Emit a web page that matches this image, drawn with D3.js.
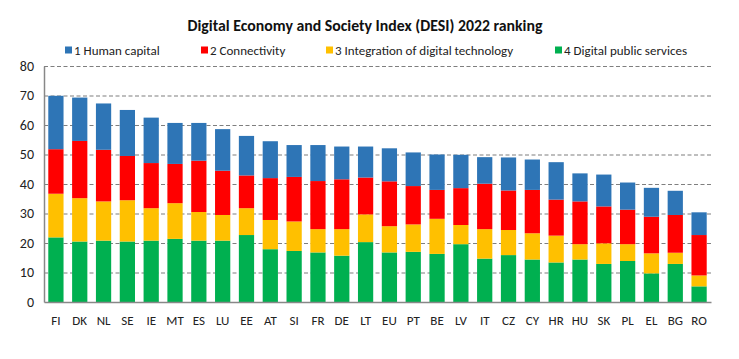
<!DOCTYPE html>
<html><head><meta charset="utf-8">
<script src="https://cdn.jsdelivr.net/npm/d3@7"></script>
<style>body{margin:0;background:#fff}svg{display:block}</style>
</head><body><svg id="c" width="739" height="359"></svg>
<script>
const countries = ["FI","DK","NL","SE","IE","MT","ES","LU","EE","AT","SI","FR","DE","LT","EU","PT","BE","LV","IT","CZ","CY","HR","HU","SK","PL","EL","BG","RO"];
const digitalPublicServices = [21.9,20.5,20.8,20.5,20.8,21.4,20.8,20.8,22.7,17.9,17.3,16.8,15.7,20.3,16.8,17.0,16.3,19.6,14.7,15.9,14.4,13.4,14.4,12.9,13.9,9.7,12.9,5.3];
const integration = [14.8,14.7,13.3,14.0,11.0,12.1,9.7,8.7,9.1,9.9,10.0,7.9,9.0,9.4,8.9,9.3,11.9,6.5,10.0,8.5,8.9,9.1,5.2,7.0,5.7,6.8,3.8,3.7];
const connectivity = [15.1,19.4,17.5,15.0,15.3,13.3,17.4,15.0,11.1,14.2,15.1,16.3,16.9,12.5,15.2,13.0,9.8,12.5,15.4,13.4,14.7,12.2,14.5,12.5,11.7,12.4,12.8,13.7];
const humanCapital = [18.1,14.7,15.7,15.6,15.4,13.9,12.8,14.1,13.4,12.5,10.8,12.2,11.1,10.5,11.2,11.4,12.0,11.3,9.0,11.2,10.3,12.7,9.5,10.8,9.2,9.8,8.2,7.7];
const seriesNames = ["1 Human capital","2 Connectivity","3 Integration of digital technology","4 Digital public services"];
const yTicks = [0,10,20,30,40,50,60,70,80];
const titleText = "Digital Economy and Society Index (DESI) 2022 ranking";

const colors = {"1 Human capital":"#2E75B6","2 Connectivity":"#FF0000","3 Integration of digital technology":"#FFC000","4 Digital public services":"#00B050"};
const font = "Calibri, Carlito, 'Open Sans', sans-serif";

const svg = d3.select("#c");
const m = {l:44, r:28, t:66, b:57};
const W = 739, H = 359;

const x = d3.scaleBand().domain(countries).range([m.l, W - m.r]).paddingInner(0.36).paddingOuter(0.18);
const y = d3.scaleLinear().domain([0,80]).range([H - m.b, m.t]);

const rows = countries.map((c,i)=>({c, "4 Digital public services":digitalPublicServices[i], "3 Integration of digital technology":integration[i], "2 Connectivity":connectivity[i], "1 Human capital":humanCapital[i]}));
const stackOrder = ["4 Digital public services","3 Integration of digital technology","2 Connectivity","1 Human capital"];
const stacked = d3.stack().keys(stackOrder)(rows);

// gridlines
svg.append("g").selectAll("line").data(yTicks.filter(t=>t>0)).join("line")
  .attr("x1", m.l).attr("x2", W - m.r)
  .attr("y1", d=>y(d)+0.5).attr("y2", d=>y(d)+0.5)
  .attr("stroke","#7f7f7f").attr("stroke-width",1.2).attr("stroke-dasharray","4,2.5");

// bars
svg.append("g").selectAll("g").data(stacked).join("g")
  .attr("fill", d=>colors[d.key])
  .selectAll("rect").data(d=>d).join("rect")
  .attr("x", d=>x(d.data.c)).attr("width", x.bandwidth())
  .attr("y", d=>y(d[1])).attr("height", d=>y(d[0])-y(d[1]));

// axes
const yAxis = d3.axisLeft(y).tickValues(yTicks).tickSize(0).tickPadding(10);
const gy = svg.append("g").attr("transform",`translate(${m.l},0)`).call(yAxis);
gy.select(".domain").attr("stroke","#888").attr("stroke-width",1.5);
gy.selectAll("text").attr("font-family",font).attr("font-size",14).attr("fill","#222");

const xAxis = d3.axisBottom(x).tickSize(0).tickPadding(14);
const gx = svg.append("g").attr("transform",`translate(0,${H - m.b})`).call(xAxis);
gx.select(".domain").attr("stroke","#888").attr("stroke-width",1.5);
gx.selectAll("text").attr("font-family",font).attr("font-size",13).attr("fill","#222");

// title
svg.append("text").attr("x",365).attr("y",31).attr("text-anchor","middle")
  .attr("font-family",font).attr("font-weight","bold").attr("font-size",15.8).attr("fill","#111")
  .text(titleText);

// legend
const legendX = [65,201,326,555];
const lg = svg.append("g").selectAll("g").data(seriesNames).join("g")
  .attr("transform",(d,i)=>`translate(${legendX[i]},50)`);
lg.append("rect").attr("x",0).attr("y",-3.5).attr("width",7).attr("height",7).attr("fill",d=>colors[d]);
lg.append("text").attr("x",9).attr("y",4.5).attr("font-family",font).attr("font-size",13).attr("fill","#222").text(d=>d);
</script></body></html>
